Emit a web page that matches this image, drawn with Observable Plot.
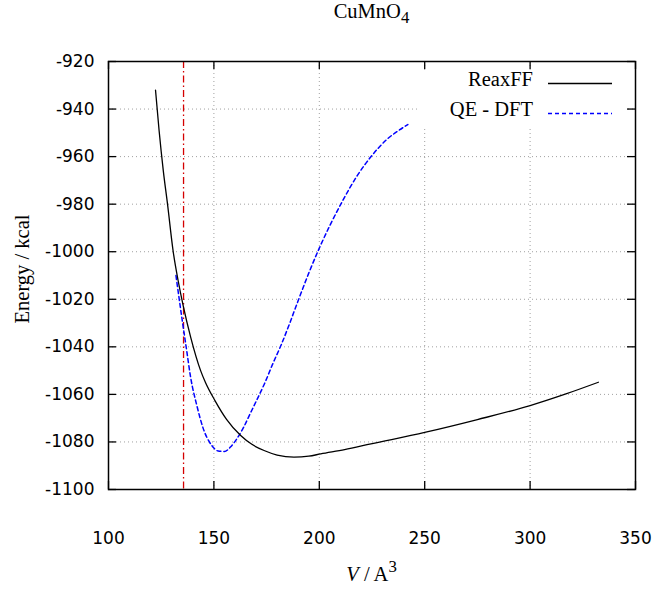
<!DOCTYPE html>
<html>
<head>
<meta charset="utf-8">
<script src="https://cdn.jsdelivr.net/npm/d3@7"></script>
<script src="https://cdn.jsdelivr.net/npm/@observablehq/plot@0.6"></script>
<style>
  html, body { margin: 0; padding: 0; background: #fff; }
  #wrap { position: relative; width: 653px; height: 589px; }
  .serif { font-family: "Liberation Serif", "DejaVu Serif", serif; color: #000; position: absolute; white-space: nowrap; }
  #title { font-size: 20.5px; left: 0; width: 743px; text-align: center; top: 0px; }
  #xlabel { font-size: 20.5px; left: 0; width: 743px; text-align: center; top: 563px; }
  #ylabel { font-size: 20.5px; left: 22px; top: 269px; transform: translate(-50%, -50%) rotate(-90deg); }
  #legend { position: absolute; left: 420px; top: 70px; width: 206px; height: 58px; background: #fff; }
  .lrow { position: absolute; left: 0; width: 206px; height: 30px; }
  .ltext { position: absolute; right: 93px; font-size: 20.5px; }
  sub { font-size: 0.82em; vertical-align: -0.3em; line-height: 0; }
  sup { font-size: 0.82em; vertical-align: 0.55em; line-height: 0; }
</style>
</head>
<body>
<div id="wrap">
  <div id="chart"></div>
  <div id="title" class="serif">CuMnO<sub>4</sub></div>
  <div id="xlabel" class="serif"><i>V</i> / A<sup>3</sup></div>
  <div id="ylabel" class="serif">Energy / kcal</div>
  <div id="legend"></div>
</div>
<script>
// ---- data ----
const reaxV = [122.3, 124, 126, 128, 130.7, 133, 135.5, 139, 143.7, 146, 150.5, 156, 162.7, 168, 173.8, 180, 188, 195, 200.7, 212, 224.5, 250, 275, 300, 317, 332.4];
const reaxE = [-932, -949, -966, -980, -1000, -1012, -1023, -1036, -1050, -1055, -1062.6, -1070.5, -1077.3, -1081, -1083.6, -1085.5, -1086.4, -1086, -1085, -1083.2, -1080.8, -1076, -1070.6, -1064.7, -1059.8, -1054.9];
const dftV = [132, 135, 137, 139, 142, 145, 149, 152, 155, 158, 161, 164, 167, 170, 174, 178, 182, 186, 190, 195, 200, 205, 211, 218, 225, 232, 238, 242];
const dftE = [-1010, -1029, -1041, -1053, -1065, -1074.5, -1081.5, -1083.8, -1084, -1082, -1078.5, -1074, -1068.5, -1063, -1055.5, -1047, -1039, -1030, -1020.5, -1009, -998.5, -989, -978.7, -968, -959.5, -952.8, -948.8, -946.5];
const markerV = [135.6];
const xTicks = [100, 150, 200, 250, 300, 350];
const yTicks = [-1100, -1080, -1060, -1040, -1020, -1000, -980, -960, -940, -920];
const seriesNames = ["ReaxFF", "QE - DFT"];

const reax = reaxV.map((v, i) => ({v, e: reaxE[i]}));
const dft = dftV.map((v, i) => ({v, e: dftE[i]}));

const W = 653, H = 589;
const mL = 108, mR = 18, mT = 61, mB = 100;
const iw = W - mL - mR, ih = H - mT - mB;
const tk = 8;

const chart = Plot.plot({
  width: W, height: H,
  marginLeft: mL, marginRight: mR, marginTop: mT, marginBottom: mB,
  style: { fontFamily: "DejaVu Sans", fontSize: "17px", color: "#000", background: "#fff" },
  x: { domain: [100, 350], label: null },
  y: { domain: [-1100, -920], label: null },
  marks: [
    Plot.gridX(xTicks, { stroke: "#a0a0a0", strokeOpacity: 1, strokeWidth: 1, strokeDasharray: "1,3" }),
    Plot.gridY(yTicks, { stroke: "#a0a0a0", strokeOpacity: 1, strokeWidth: 1, strokeDasharray: "1,3" }),
    Plot.axisX(xTicks, { tickSize: 0, tickPadding: 42, tickFormat: d => String(d), fontSize: 17, label: null }),
    Plot.axisY(yTicks, { tickSize: 0, tickPadding: 14, tickFormat: d => String(d), fontSize: 17, label: null }),
    Plot.tickY(yTicks, { y: d => d, insetRight: iw - tk, stroke: "#000", strokeWidth: 1.3 }),
    Plot.tickY(yTicks, { y: d => d, insetLeft: iw - tk, stroke: "#000", strokeWidth: 1.3 }),
    Plot.tickX(xTicks, { x: d => d, insetBottom: ih - tk, stroke: "#000", strokeWidth: 1.3 }),
    Plot.tickX(xTicks, { x: d => d, insetTop: ih - tk, stroke: "#000", strokeWidth: 1.3 }),
    Plot.ruleX(markerV, { stroke: "#d40000", strokeWidth: 1.3, strokeDasharray: "7,3,1.5,3" }),
    Plot.line(dft, { x: "v", y: "e", stroke: "#0000ff", strokeWidth: 1.5, strokeDasharray: "4,3", curve: "monotone-x" }),
    Plot.line(reax, { x: "v", y: "e", stroke: "#000", strokeWidth: 1.3, curve: "monotone-x" }),
    Plot.frame({ stroke: "#000", strokeWidth: 1.5 })
  ]
});
document.getElementById("chart").appendChild(chart);

// legend
const legend = document.getElementById("legend");
const styles = [
  { stroke: "#000", dash: null, width: 1.3 },
  { stroke: "#0000ff", dash: "4,3", width: 1.5 }
];
seriesNames.forEach((name, i) => {
  const row = document.createElement("div");
  row.className = "lrow";
  row.style.top = (i * 30) + "px";
  const t = document.createElement("div");
  t.className = "ltext serif";
  t.style.top = "-2px";
  t.textContent = name;
  row.appendChild(t);
  const s = d3.create("svg").attr("width", 70).attr("height", 30)
    .style("position", "absolute").style("left", "126px").style("top", "0px");
  s.append("line").attr("x1", 2).attr("x2", 66).attr("y1", 13.5).attr("y2", 13.5)
    .attr("stroke", styles[i].stroke).attr("stroke-width", styles[i].width)
    .attr("stroke-dasharray", styles[i].dash);
  row.appendChild(s.node());
  legend.appendChild(row);
});
</script>
</body>
</html>
